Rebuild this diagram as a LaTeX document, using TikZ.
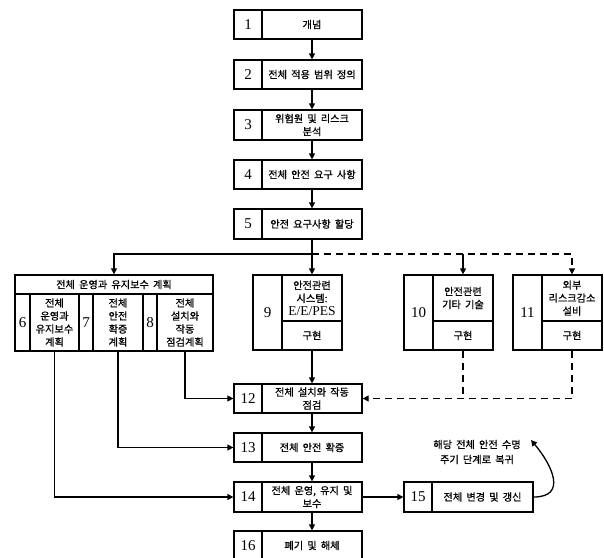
\documentclass[tikz,border=0pt]{standalone}
\usepackage{fontspec}
\newfontfamily\kr{Noto Sans CJK KR}[FakeBold=0.8, WordSpace=1.8]
\newfontfamily\numf{Liberation Serif}
\usetikzlibrary{arrows.meta}
\tikzset{
  cell/.style={draw, line width=1.3pt, inner sep=0pt, anchor=center},
  numcell/.style={cell, font=\numf\fontsize{15}{15}\selectfont},
  txtcell/.style={cell, align=center, font=\kr\fontsize{10.2}{13}\selectfont},
  arr/.style={line width=1.3pt, -{Triangle[length=6pt,width=6pt]}},
  dsh/.style={line width=1.3pt, dash pattern=on 7pt off 5pt},
}
\newcommand\mainrow[5]{%
  \node[numcell, minimum width=28pt, minimum height=#4pt] (n#1) at (248,#3) {#2};
  \node[txtcell, minimum width=100pt, minimum height=#4pt] (t#1) at (312,#3) {#5};}
\begin{document}
\begin{tikzpicture}[x=1pt,y=-1pt]
\useasboundingbox[fill=white] (0,0) rectangle (604,557);
% main column
\mainrow{1}{1}{24.5}{29}{개념}
\mainrow{2}{2}{74.5}{29}{전체 적용 범위 정의}
\mainrow{3}{3}{125}{30}{위험원 및 리스크\\분석}
\mainrow{4}{4}{174.5}{29}{전체 안전 요구 사항}
\mainrow{5}{5}{224}{30}{안전 요구사항 할당}
\mainrow{12}{12}{398.5}{29}{전체 설치와 작동\\점검}
\mainrow{13}{13}{447.5}{29}{전체 안전 확증}
\mainrow{14}{14}{497}{30}{전체 운영, 유지 및\\보수}
\mainrow{16}{16}{545.5}{29}{폐기 및 해체}
% planning box
\node[txtcell, minimum width=198pt, minimum height=19pt] (hdr) at (114,284.5) {전체 운영과 유지보수 계획};
\node[numcell, minimum width=15pt, minimum height=57pt] (n6) at (22.5,322.5) {6};
\node[txtcell, minimum width=49pt, minimum height=57pt] (t6) at (54.5,322.5) {전체\\운영과\\유지보수\\계획};
\node[numcell, minimum width=14pt, minimum height=57pt] (n7) at (86,322.5) {7};
\node[txtcell, minimum width=50pt, minimum height=57pt] (t7) at (118,322.5) {전체\\안전\\확증\\계획};
\node[numcell, minimum width=14pt, minimum height=57pt] (n8) at (150,322.5) {8};
\node[txtcell, minimum width=56pt, minimum height=57pt] (t8) at (185,322.5) {전체\\설치와\\작동\\점검계획};
% box 9
\node[numcell, minimum width=29pt, minimum height=75pt] (n9) at (267.5,312.5) {9};
\node[txtcell, minimum width=60pt, minimum height=46pt] (t9a) at (312,298) {안전관련\\시스템:\\{\numf\fontsize{13.5}{13}\selectfont E/E/PES}};
\node[txtcell, minimum width=60pt, minimum height=29pt] (t9b) at (312,335.5) {구현};
% box 10
\node[numcell, minimum width=29pt, minimum height=75pt] (n10) at (418.5,312.5) {10};
\node[txtcell, minimum width=60pt, minimum height=46pt] (t10a) at (463,298) {안전관련\\기타 기술};
\node[txtcell, minimum width=60pt, minimum height=29pt] (t10b) at (463,335.5) {구현};
% box 11
\node[numcell, minimum width=29pt, minimum height=75pt] (n11) at (527.5,312.5) {11};
\node[txtcell, minimum width=60pt, minimum height=46pt] (t11a) at (572,298) {외부\\리스크감소\\설비};
\node[txtcell, minimum width=60pt, minimum height=29pt] (t11b) at (572,335.5) {구현};
% box 15
\node[numcell, minimum width=28pt, minimum height=30pt] (n15) at (418,497) {15};
\node[txtcell, minimum width=101pt, minimum height=30pt] (t15) at (482.5,497) {전체 변경 및 갱신};
\node[align=center, inner sep=0pt, font=\kr\fontsize{10.2}{15}\selectfont] (lbl) at (477,452) {해당 전체 안전 수명\\주기 단계로 복귀};
\coordinate (ret) at (531,440);
\coordinate (j) at (312,254);
% connectors
\draw[arr] (t1.south) -- (t2.north);
\draw[arr] (t2.south) -- (t3.north);
\draw[arr] (t3.south) -- (t4.north);
\draw[arr] (t4.south) -- (t5.north);
\draw[arr] (t5.south) -- (t9a.north);
\draw[arr] (j) -| (hdr.north);
\draw[dsh, arr] (j) -| (t11a.north);
\draw[arr] (t10a.north |- j) -- (t10a.north);
\draw[arr] (t9b.south) -- (t12.north);
\draw[dsh] (t10b.south) -- (t10b.south |- t12.east);
\draw[dsh, arr] (t11b.south) |- (t12.east);
\draw[arr] (t8.south) |- (n12.west);
\draw[arr] (t7.south) |- (n13.west);
\draw[arr] (t6.south) |- (n14.west);
\draw[arr] (t12.south) -- (t13.north);
\draw[arr] (t13.south) -- (t14.north);
\draw[arr] (t14.south) -- (t16.north);
\draw[arr] (t14.east) -- (n15.west);
\draw[arr] (t15.east) to[out=0, in=-50, looseness=1.5] (ret);
\end{tikzpicture}
\end{document}
